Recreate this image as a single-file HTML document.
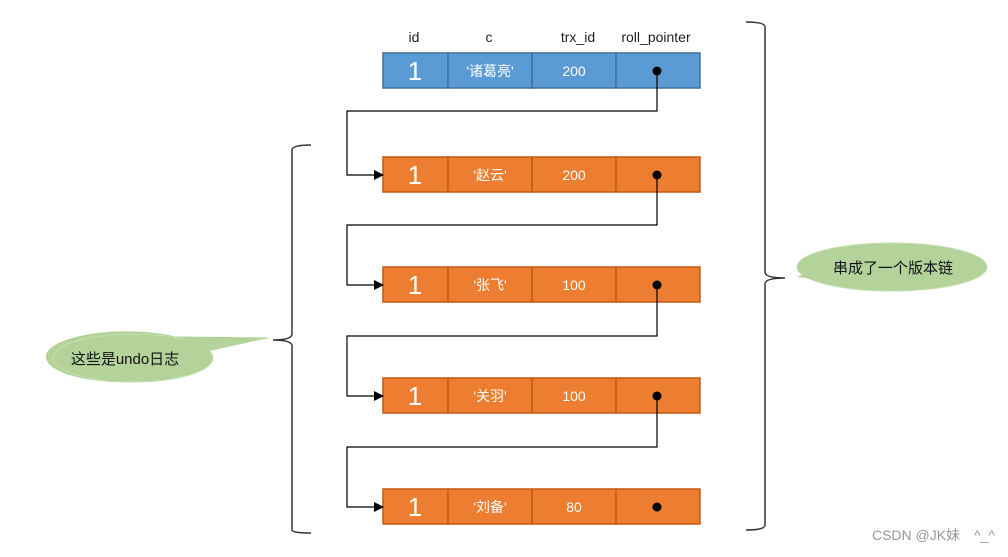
<!DOCTYPE html>
<html><head><meta charset="utf-8"><style>
html,body{margin:0;padding:0;background:#fff;}
svg text{font-family:"Liberation Sans","Noto Sans CJK SC",sans-serif;}
</style></head><body>
<svg width="1008" height="552" viewBox="0 0 1008 552" xmlns="http://www.w3.org/2000/svg">
<defs><marker id="a" markerWidth="10" markerHeight="10" refX="9" refY="5" orient="auto" markerUnits="userSpaceOnUse"><path d="M0,0 L10,5 L0,10 z" fill="#000"/></marker></defs>
<g font-size="14" fill="#222" text-anchor="middle">
<text x="414" y="42">id</text><text x="489" y="42">c</text><text x="578" y="42">trx_id</text><text x="656" y="42">roll_pointer</text>
</g>
<!-- rows -->
<g stroke-width="1.5">
<g stroke="#41719c" fill="#5b9bd5">
<rect x="383" y="53" width="65" height="35"/><rect x="448" y="53" width="84" height="35"/><rect x="532" y="53" width="84" height="35"/><rect x="616" y="53" width="84" height="35"/>
</g>
<g stroke="#c55a11" fill="#ed7d31">
<rect x="383" y="157" width="65" height="35"/><rect x="448" y="157" width="84" height="35"/><rect x="532" y="157" width="84" height="35"/><rect x="616" y="157" width="84" height="35"/>
<rect x="383" y="267" width="65" height="35"/><rect x="448" y="267" width="84" height="35"/><rect x="532" y="267" width="84" height="35"/><rect x="616" y="267" width="84" height="35"/>
<rect x="383" y="378" width="65" height="35"/><rect x="448" y="378" width="84" height="35"/><rect x="532" y="378" width="84" height="35"/><rect x="616" y="378" width="84" height="35"/>
<rect x="383" y="489" width="65" height="35"/><rect x="448" y="489" width="84" height="35"/><rect x="532" y="489" width="84" height="35"/><rect x="616" y="489" width="84" height="35"/>
</g></g>
<g fill="#fff" text-anchor="middle">
<g font-size="26"><text x="415" y="80">1</text><text x="415" y="184">1</text><text x="415" y="294">1</text><text x="415" y="405">1</text><text x="415" y="516">1</text></g>
<g font-size="14">
<text x="490" y="76">'诸葛亮'</text><text x="574" y="76">200</text>
<text x="490" y="180">'赵云'</text><text x="574" y="180">200</text>
<text x="490" y="290">'张飞'</text><text x="574" y="290">100</text>
<text x="490" y="401">'关羽'</text><text x="574" y="401">100</text>
<text x="490" y="512">'刘备'</text><text x="574" y="512">80</text>
</g></g>
<g fill="#000"><circle cx="657" cy="71" r="4.5"/><circle cx="657" cy="175" r="4.5"/><circle cx="657" cy="285" r="4.5"/><circle cx="657" cy="396" r="4.5"/><circle cx="657" cy="507" r="4.5"/></g>
<g stroke="#000" stroke-width="1.2" fill="none" marker-end="url(#a)">
<path d="M657,71 V111 H347 V175 H383"/>
<path d="M657,175 V225 H347 V285 H383"/>
<path d="M657,285 V336 H347 V396 H383"/>
<path d="M657,396 V447 H347 V507 H383"/>
</g>
<!-- braces -->
<g stroke="#333" stroke-width="1.5" fill="none">
<path d="M311,145 Q292,145 292,150 V334 Q292,340 273,340 Q292,340 292,346 V530 Q292,533 311,533"/>
<path d="M746,22 Q765,22 765,27 V272 Q765,278 785,278 Q765,278 765,284 V525 Q765,530 746,530"/>
</g>
<!-- bubbles -->
<path d="M175,337 L268,338 L200,347 A80,25 0 1 1 175,337 z" fill="#b4d39a" stroke="#a9d18e" stroke-width="1"/>
<ellipse cx="133" cy="358" rx="80" ry="24" fill="#b4d39a" stroke="#c5dfb2"/>
<path d="M160,340 L268,338 L205,352 z" fill="#b4d39a"/>
<text x="125" y="364" font-size="15" fill="#111" text-anchor="middle">这些是undo日志</text>
<ellipse cx="892" cy="267" rx="95" ry="24" fill="#b4d39a" stroke="#c5dfb2"/>
<path d="M835,260 L797,277 L860,285 z" fill="#b4d39a"/>
<text x="893" y="273" font-size="15" fill="#111" text-anchor="middle">串成了一个版本链</text>
<text x="995" y="540" font-size="14" fill="#999" text-anchor="end">CSDN @JK妹　^_^</text>
</svg>
</body></html>
